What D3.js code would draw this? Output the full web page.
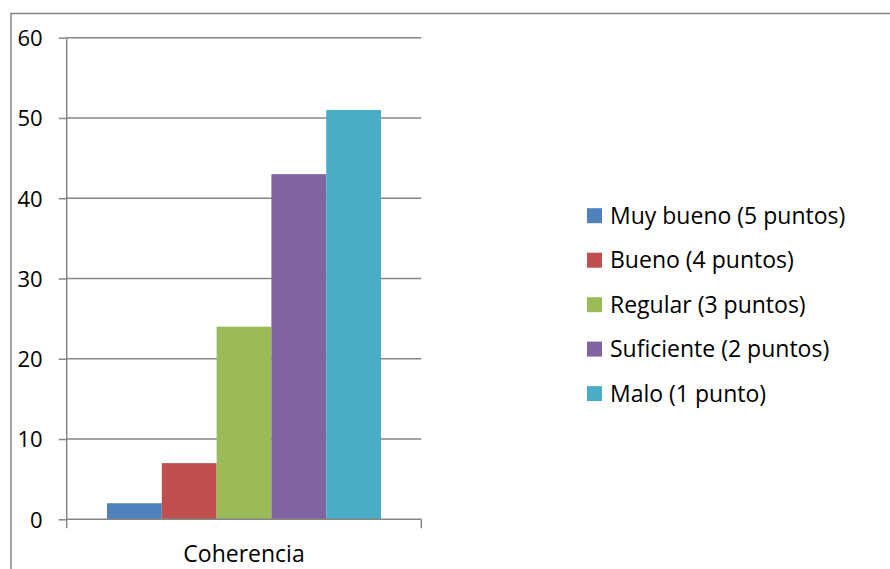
<!DOCTYPE html>
<html>
<head>
<meta charset="utf-8">
<script src="https://cdn.jsdelivr.net/npm/d3@7"></script>
<style>
  html, body { margin: 0; padding: 0; background: #fff; }
  svg { display: block; }
  text { font-family: "Open Sans", "Liberation Sans", sans-serif; fill: #000; }
</style>
</head>
<body>
<svg id="chart" width="890" height="569"></svg>
<script>
// Data
const categories = ["Coherencia"];
const series = ["Muy bueno (5 puntos)", "Bueno (4 puntos)", "Regular (3 puntos)", "Suficiente (2 puntos)", "Malo (1 punto)"];
const values = [2, 7, 24, 43, 51];
const colors = ["#4F81BD", "#C0504D", "#9BBB59", "#8064A2", "#4BACC6"];
const yTicks = [0, 10, 20, 30, 40, 50, 60];

const svg = d3.select("#chart");
const axisColor = "#868686";

// Outer chart frame
svg.append("rect")
  .attr("x", 11).attr("y", 13.5)
  .attr("width", 890).attr("height", 600)
  .attr("fill", "none").attr("stroke", axisColor).attr("stroke-width", 1.5);

const plot = { left: 66.7, right: 421.3, top: 37.7, bottom: 519.3 };

const y = d3.scaleLinear().domain([0, 60]).range([plot.bottom, plot.top]);
const x0 = d3.scaleBand().domain(categories).range([plot.left, plot.right]).paddingInner(0).paddingOuter(0);
const x1 = d3.scaleBand().domain(series).range([40.3, x0.bandwidth() - 40.3]).padding(0);

// Horizontal gridlines
svg.append("g").selectAll("line").data(yTicks.filter(d => d > 0)).join("line")
  .attr("x1", plot.left).attr("x2", plot.right)
  .attr("y1", d => y(d)).attr("y2", d => y(d))
  .attr("stroke", axisColor).attr("stroke-width", 1.5);

// Bars
const g = svg.append("g");
categories.forEach(cat => {
  g.selectAll("rect.bar").data(values).join("rect")
    .attr("class", "bar")
    .attr("x", (d, i) => x0(cat) + x1(series[i]))
    .attr("width", x1.bandwidth())
    .attr("y", d => y(d))
    .attr("height", d => y(0) - y(d))
    .attr("fill", (d, i) => colors[i]);
});

// Y axis
const yAxis = d3.axisLeft(y).tickValues(yTicks).tickSize(8).tickPadding(16).tickFormat(d3.format("d"));
const ya = svg.append("g").attr("transform", `translate(${plot.left},0)`).call(yAxis);
ya.select(".domain").remove();
ya.selectAll(".tick line").attr("stroke", axisColor).attr("stroke-width", 1.5);
ya.selectAll(".tick text").attr("font-size", 22).attr("font-family", "'Open Sans', sans-serif").attr("fill", "#000").attr("dy", "0.36em");
svg.append("line")
  .attr("x1", plot.left).attr("x2", plot.left)
  .attr("y1", plot.top).attr("y2", plot.bottom + 9)
  .attr("stroke", axisColor).attr("stroke-width", 1.5);

// X axis
svg.append("line")
  .attr("x1", plot.left).attr("x2", plot.right)
  .attr("y1", plot.bottom).attr("y2", plot.bottom)
  .attr("stroke", axisColor).attr("stroke-width", 1.5);
svg.append("line")
  .attr("x1", plot.right).attr("x2", plot.right)
  .attr("y1", plot.bottom).attr("y2", plot.bottom + 9)
  .attr("stroke", axisColor).attr("stroke-width", 1.5);
svg.selectAll("text.cat").data(categories).join("text")
  .attr("class", "cat")
  .attr("x", d => x0(d) + x0.bandwidth() / 2)
  .attr("y", 562)
  .attr("text-anchor", "middle")
  .attr("font-size", 23)
  .text(d => d);

// Legend
const legend = svg.append("g");
const rowY = [215.7, 260.2, 304.7, 349.1, 393.6];
const items = legend.selectAll("g").data(series).join("g")
  .attr("transform", (d, i) => `translate(587,${rowY[i]})`);
items.append("rect")
  .attr("x", 0).attr("y", -7.5).attr("width", 15).attr("height", 15)
  .attr("fill", (d, i) => colors[i]);
items.append("text")
  .attr("x", 23).attr("y", 0).attr("dy", "0.36em")
  .attr("font-size", 23)
  .text(d => d);
</script>
</body>
</html>
